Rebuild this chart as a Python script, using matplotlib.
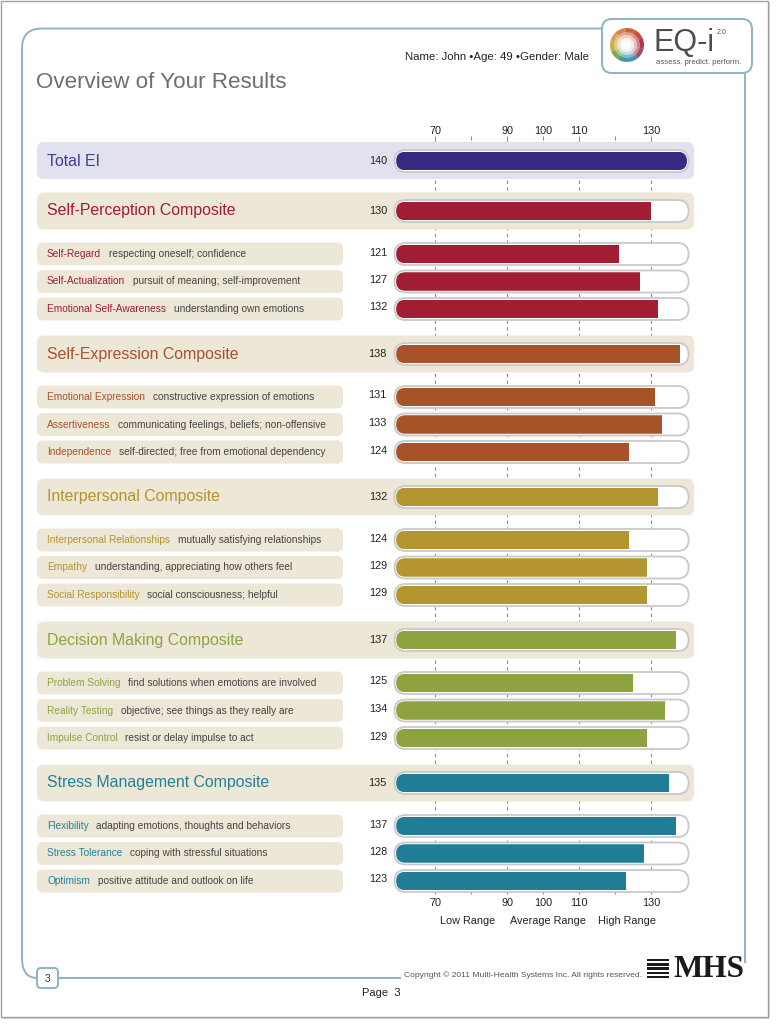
import matplotlib
matplotlib.use("Agg")
import matplotlib.pyplot as plt
import matplotlib.patches as mpatches
import matplotlib.transforms as mtransforms
from matplotlib.path import Path

plt.rcParams['font.family'] = ['Liberation Sans', 'DejaVu Sans']

# ---- data ----
total_label = "Total EI"
total_score = 140

composites = ["Self-Perception Composite", "Self-Expression Composite",
              "Interpersonal Composite", "Decision Making Composite",
              "Stress Management Composite"]
composite_scores = [130, 138, 132, 137, 135]

subscales = [
    ["Self-Regard", "Self-Actualization", "Emotional Self-Awareness"],
    ["Emotional Expression", "Assertiveness", "Independence"],
    ["Interpersonal Relationships", "Empathy", "Social Responsibility"],
    ["Problem Solving", "Reality Testing", "Impulse Control"],
    ["Flexibility", "Stress Tolerance", "Optimism"],
]
subscale_desc = [
    ["respecting oneself; confidence", "pursuit of meaning; self-improvement",
     "understanding own emotions"],
    ["constructive expression of emotions", "communicating feelings, beliefs; non-offensive",
     "self-directed; free from emotional dependency"],
    ["mutually satisfying relationships", "understanding, appreciating how others feel",
     "social consciousness; helpful"],
    ["find solutions when emotions are involved", "objective; see things as they really are",
     "resist or delay impulse to act"],
    ["adapting emotions, thoughts and behaviors", "coping with stressful situations",
     "positive attitude and outlook on life"],
]
subscale_scores = [
    [121, 127, 132],
    [131, 133, 124],
    [124, 129, 129],
    [125, 134, 129],
    [137, 128, 123],
]

tick_values = [70, 80, 90, 100, 110, 120, 130]
tick_labels = ["70", "", "90", "100", "110", "", "130"]
grid_values = [70, 90, 110, 130]
range_names = ["Low Range", "Average Range", "High Range"]
range_centers = [79, 101.5, 123.3]

scale_lo, scale_hi = 59.2, 140

# ---- styles ----
total_color = "#3a2980"
total_text = "#3d3f8e"
group_colors = ["#a11d34", "#a8522a", "#b5952f", "#8ca340", "#217d96"]
group_text = ["#a11d34", "#a8522a", "#b39430", "#8da43f", "#23809a"]
beige = "#ede7d8"
lavender = "#e2e1ef"
frame_blue = "#8db3c4"

W, H = 780, 1027
fig = plt.figure(figsize=(W / 100, H / 100), dpi=100)
ax = fig.add_axes([0, 0, 1, 1])
px_per_unit = 3.6
x70 = 435
ax.set_xlim(70 - x70 / px_per_unit, 70 + (W - x70) / px_per_unit)
ax.set_ylim(H, 0)
ax.axis("off")

# pixel transform (x right, y down) for page decorations
pxT = mtransforms.Affine2D().scale(1, -1).translate(0, H)


def rbox(x0, y0, x1, y1, r, fc, ec="none", lw=0, z=1):
    p = mpatches.FancyBboxPatch((x0, y0), x1 - x0, y1 - y0,
                                boxstyle=f"round,pad=0,rounding_size={r}",
                                fc=fc, ec=ec, lw=lw, zorder=z, transform=pxT)
    ax.add_patch(p)
    return p


def vbox(x0, yc, x1, h, **kw):
    r = h / 2 / px_per_unit
    p = mpatches.FancyBboxPatch((x0, yc - h / 2), x1 - x0, h,
                                boxstyle=f"round,pad=0,rounding_size={r}",
                                mutation_aspect=px_per_unit,
                                transform=ax.transData, **kw)
    ax.add_patch(p)
    return p


def score_bars(ys, vals, color):
    clips = []
    for y in ys:
        vbox(scale_lo - 0.45, y, scale_hi + 0.45, 22, fc="white", ec="#c9c9c9", lw=1.3, zorder=3)
        clips.append(vbox(scale_lo, y, scale_hi, 18.5, fc="none", ec="none", zorder=3))
    bars = ax.barh(ys, [v - scale_lo for v in vals], left=scale_lo, height=18.5,
                   color=color, zorder=4)
    for b, c in zip(bars, clips):
        b.set_clip_path(c)


# ---- page ----
ax.add_patch(mpatches.Rectangle((3, 3), 767, 1016, fc="#d9d9d9", ec="none", zorder=0, transform=pxT))
ax.add_patch(mpatches.Rectangle((0.5, 0.5), 767, 1016, fc="white", ec="#a0a0a0", lw=1, zorder=0, transform=pxT))

frame = Path([(602, 28.5), (42, 28.5), (22, 28.5), (22, 48.5), (22, 958), (22, 978), (37, 978)],
             [Path.MOVETO, Path.LINETO, Path.CURVE3, Path.CURVE3, Path.LINETO, Path.CURVE3, Path.CURVE3])
ax.add_patch(mpatches.PathPatch(frame, fc="none", ec=frame_blue, lw=1.4, zorder=1, transform=pxT))
ax.plot([58, 400], [978, 978], color=frame_blue, lw=1.4, zorder=1, transform=pxT)
ax.plot([745, 745], [73, 962], color=frame_blue, lw=1.4, zorder=1, transform=pxT)
rbox(602, 19, 752, 73, 10, "white", frame_blue, 1.4, z=2)
rbox(37, 968, 58, 988, 4, "white", frame_blue, 1.4, z=2)
ax.text(47.5, 978.5, "3", ha="center", va="center", fontsize=7.5, color="#333333", transform=pxT, zorder=3)

# EQ-i logo wheel
wheel_colors = ["#c64b3c", "#b7384a", "#a34a6a", "#4d8db4", "#3f9aa8", "#7fa64a",
                "#c7b04a", "#d9a15a", "#d9834a", "#cf6140"]
n = len(wheel_colors)
for i, c in enumerate(wheel_colors):
    a0 = -60 + i * 360 / n
    ax.add_patch(mpatches.Wedge((627, 45), 17, a0, a0 + 360 / n + 1, fc=c, ec="none",
                                zorder=3, transform=pxT))
for r, a in [(13, 0.35), (10, 0.5), (7, 0.7), (4, 0.9)]:
    ax.add_patch(mpatches.Circle((627, 45), r, fc="white", ec="none", alpha=a, zorder=3, transform=pxT))
ax.text(654, 43, "EQ-i", fontsize=22, color="#4d4d4d", ha="left", va="center", transform=pxT, zorder=3)
ax.text(717, 33, "2.0", fontsize=5, color="#4d4d4d", ha="left", va="center", transform=pxT, zorder=3)
ax.text(656, 62, "assess. predict. perform.", fontsize=5.6, color="#555555", ha="left", va="center",
        transform=pxT, zorder=3)

ax.text(405, 57, "Name: John \u2022Age: 49 \u2022Gender: Male", fontsize=8.2, color="#222222",
        ha="left", va="center", transform=pxT)
ax.text(36, 83, "Overview of Your Results", fontsize=16.1, color="#6e6e6e", ha="left", va="center",
        transform=pxT)

# ---- axis ticks and grid ----
ax.vlines(grid_values, 140, 893, colors="#8c8c8c", linestyles=(0, (3, 3)), lw=0.8, zorder=0.5)
ax.vlines(tick_values, 136, 140, colors="#8c8c8c", lw=0.8, zorder=0.5)
ax.vlines(tick_values, 890, 894, colors="#8c8c8c", lw=0.8, zorder=0.5)
for v, lab in zip(tick_values, tick_labels):
    ax.text(v, 131, lab, ha="center", va="center", fontsize=7.8, color="#222222")
    ax.text(v, 903, lab, ha="center", va="center", fontsize=7.8, color="#222222")
for v, lab in zip(range_centers, range_names):
    ax.text(v, 920.5, lab, ha="center", va="center", fontsize=7.8, color="#222222")

# ---- Total EI ----
rbox(37, 142, 694, 179, 7, lavender)
ax.text(47, 161, total_label, fontsize=11.4, color=total_text, ha="left", va="center", transform=pxT, zorder=2)
ax.text(387, 161, str(total_score), fontsize=7.8, color="#222222", ha="right", va="center", transform=pxT, zorder=2)
score_bars([161], [total_score], total_color)

# ---- composites and subscales ----
for g, name in enumerate(composites):
    yc = 211 + g * 143
    rbox(37, yc - 18.5, 694, yc + 18.5, 7, beige)
    ax.text(47, yc, name, fontsize=11.4, color=group_text[g], ha="left", va="center", transform=pxT, zorder=2)
    ax.text(387, yc, str(composite_scores[g]), fontsize=7.8, color="#222222", ha="right", va="center",
            transform=pxT, zorder=2)
    sub_y = [yc + 43 + j * 27.5 for j in range(3)]
    for j, sname in enumerate(subscales[g]):
        ys = sub_y[j]
        rbox(37, ys - 11.5, 343, ys + 11.5, 6, beige)
        t = ax.text(47, ys, sname, fontsize=7.3, color=group_text[g], ha="left", va="center",
                    transform=pxT, zorder=2)
        ax.annotate(subscale_desc[g][j], xy=(1, 0.5), xycoords=t, xytext=(5.5, 0),
                    textcoords="offset points", fontsize=7.3, color="#444444",
                    ha="left", va="center", zorder=2)
        ax.text(387, ys - 1.5, str(subscale_scores[g][j]), fontsize=7.8, color="#222222",
                ha="right", va="center", transform=pxT, zorder=2)
    score_bars([yc], [composite_scores[g]], group_colors[g])
    score_bars(sub_y, subscale_scores[g], group_colors[g])

# ---- footer ----
ax.text(642, 975, "Copyright \u00a9 2011 Multi-Health Systems Inc. All rights reserved.", fontsize=6.1,
        color="#555555", ha="right", va="center", transform=pxT)
for k in range(5):
    ax.add_patch(mpatches.Rectangle((647, 959 + k * 4.2), 22, 2.4, fc="#1a1a1a", ec="none",
                                    transform=pxT, zorder=2))
ax.text(745, 969.5, "MHS", fontsize=22.5, fontweight="bold", family="Liberation Serif", color="#1a1a1a",
        ha="right", va="center", transform=pxT)
ax.text(381, 993, "Page  3", fontsize=8, color="#222222", ha="center", va="center", transform=pxT)

fig.savefig("out.png", dpi=100, facecolor="white")
